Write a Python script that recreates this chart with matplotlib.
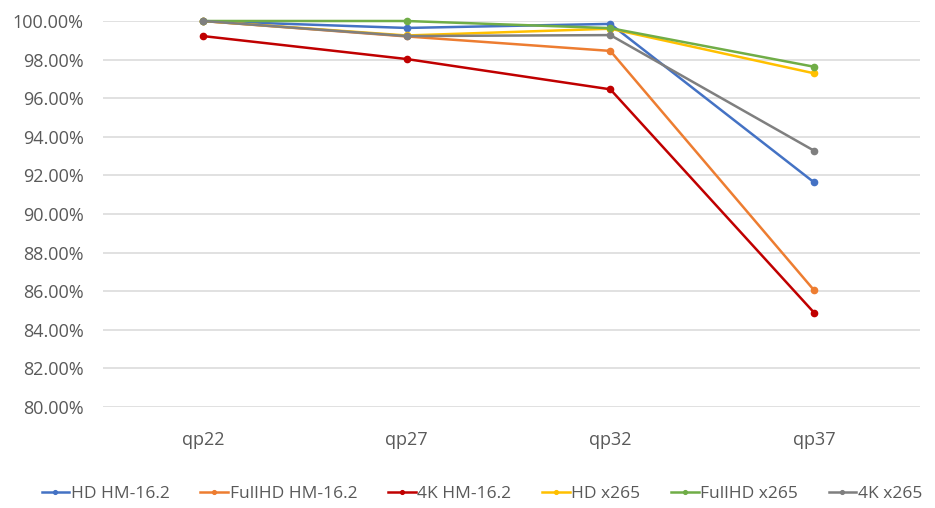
import matplotlib.pyplot as plt
from matplotlib.ticker import PercentFormatter

qps = ['qp22', 'qp27', 'qp32', 'qp37']

hd_hm = [100.00, 99.64, 99.85, 91.64]
fullhd_hm = [100.00, 99.20, 98.45, 86.05]
k4_hm = [99.22, 98.03, 96.46, 84.89]
hd_x265 = [100.00, 99.25, 99.60, 97.29]
fullhd_x265 = [100.00, 100.00, 99.63, 97.63]
k4_x265 = [100.00, 99.22, 99.27, 93.28]

names = ['HD HM-16.2', 'FullHD HM-16.2', '4K HM-16.2', 'HD x265', 'FullHD x265', '4K x265']
series = [hd_hm, fullhd_hm, k4_hm, hd_x265, fullhd_x265, k4_x265]
colors = ['#4472C4', '#ED7D31', '#C00000', '#FFC000', '#70AD47', '#7F7F7F']

plt.rcParams['font.family'] = ['Open Sans', 'DejaVu Sans']

fig = plt.figure(figsize=(9.35, 5.08), dpi=100)
ax = fig.add_axes([103/935, 1-407/508, 817/935, 386/508])

x = range(len(qps))
for vals, name, c in zip(series, names, colors):
    ax.plot(x, vals, color=c, lw=1.8, marker='o', ms=4.5, label=name, clip_on=False)

ax.set_xlim(-0.49, 3.52)
ax.set_ylim(80, 100)
ax.set_yticks(range(80, 101, 2))
ax.yaxis.set_major_formatter(PercentFormatter(decimals=2))
ax.set_xticks(list(x))
ax.set_xticklabels(qps)
ax.grid(axis='y', color='#D9D9D9', lw=1.1)
ax.set_axisbelow(True)
for s in ax.spines.values():
    s.set_visible(False)
ax.tick_params(length=0, labelsize=13, colors='#595959')
ax.tick_params(axis='y', pad=14)
ax.tick_params(axis='x', pad=17)

leg = ax.legend(loc='center', bbox_to_anchor=(482/935, 1-494/508), bbox_transform=fig.transFigure,
                ncol=6, frameon=False, fontsize=12.5, handlelength=1.6, handletextpad=0.1,
                columnspacing=1.75, markerscale=0.6)
for t in leg.get_texts():
    t.set_color('#595959')

fig.savefig('out.png', dpi=100)
